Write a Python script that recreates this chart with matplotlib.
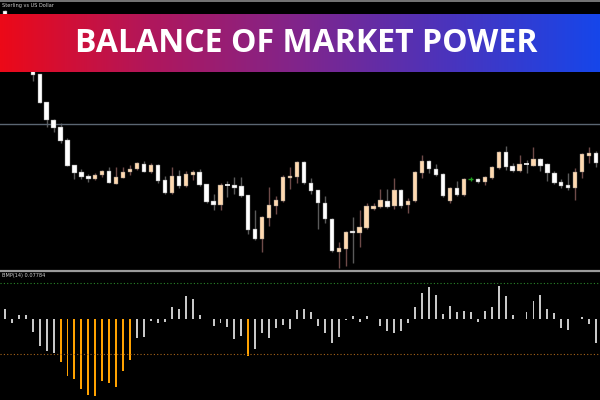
import numpy as np
import matplotlib
matplotlib.use("Agg")
import matplotlib.pyplot as plt
from matplotlib.colors import LinearSegmentedColormap

# GBPUSD candles (price), one per bar
opens = [1.2813, 1.2809, 1.2792, 1.2774, 1.2758, 1.2750, 1.2722, 1.2704, 1.2697, 1.2684,
         1.2659, 1.2652, 1.2648, 1.2645, 1.2649, 1.2653, 1.2640, 1.2646, 1.2652, 1.2655,
         1.2660, 1.2652, 1.2659, 1.2644, 1.2631, 1.2648, 1.2638, 1.2649, 1.2652, 1.2640,
         1.2623, 1.2619, 1.2639, 1.2639, 1.2638, 1.2629, 1.2595, 1.2585, 1.2606, 1.2618,
         1.2623, 1.2646, 1.2647, 1.2662, 1.2641, 1.2634, 1.2621, 1.2605, 1.2572, 1.2575,
         1.2593, 1.2591, 1.2596, 1.2615, 1.2617, 1.2623, 1.2618, 1.2634, 1.2619, 1.2623,
         1.2651, 1.2663, 1.2655, 1.2650, 1.2623, 1.2636, 1.2629, 1.2645, 1.2645, 1.2642,
         1.2646, 1.2656, 1.2672, 1.2658, 1.2653, 1.2660, 1.2658, 1.2665, 1.2660, 1.2651,
         1.2642, 1.2639, 1.2636, 1.2652, 1.2668, 1.2671, 1.2662]
closes = [1.2809, 1.2792, 1.2774, 1.2758, 1.2749, 1.2721, 1.2704, 1.2696, 1.2683, 1.2658,
          1.2651, 1.2647, 1.2645, 1.2649, 1.2653, 1.2641, 1.2647, 1.2652, 1.2655, 1.2661,
          1.2652, 1.2659, 1.2643, 1.2631, 1.2648, 1.2638, 1.2650, 1.2652, 1.2639, 1.2622,
          1.2619, 1.2639, 1.2638, 1.2636, 1.2628, 1.2594, 1.2585, 1.2607, 1.2619, 1.2624,
          1.2647, 1.2648, 1.2662, 1.2641, 1.2633, 1.2621, 1.2605, 1.2573, 1.2576, 1.2592,
          1.2591, 1.2597, 1.2618, 1.2618, 1.2624, 1.2617, 1.2634, 1.2618, 1.2623, 1.2652,
          1.2663, 1.2655, 1.2649, 1.2628, 1.2636, 1.2629, 1.2645, 1.2645, 1.2642, 1.2647,
          1.2657, 1.2672, 1.2657, 1.2653, 1.2660, 1.2660, 1.2665, 1.2658, 1.2651, 1.2641,
          1.2638, 1.2636, 1.2652, 1.2670, 1.2671, 1.2661, 1.2669]
highs = [1.2814, 1.2810, 1.2794, 1.2776, 1.2760, 1.2750, 1.2722, 1.2705, 1.2701, 1.2686,
         1.2659, 1.2655, 1.2650, 1.2651, 1.2654, 1.2657, 1.2657, 1.2657, 1.2659, 1.2662,
         1.2663, 1.2661, 1.2660, 1.2648, 1.2657, 1.2654, 1.2653, 1.2654, 1.2655, 1.2640,
         1.2630, 1.2641, 1.2643, 1.2647, 1.2647, 1.2629, 1.2614, 1.2608, 1.2637, 1.2628,
         1.2649, 1.2657, 1.2663, 1.2663, 1.2646, 1.2634, 1.2628, 1.2606, 1.2582, 1.2593,
         1.2607, 1.2614, 1.2621, 1.2621, 1.2635, 1.2635, 1.2646, 1.2635, 1.2626, 1.2653,
         1.2669, 1.2664, 1.2660, 1.2651, 1.2637, 1.2643, 1.2646, 1.2647, 1.2646, 1.2648,
         1.2658, 1.2673, 1.2678, 1.2661, 1.2669, 1.2664, 1.2677, 1.2666, 1.2661, 1.2653,
         1.2645, 1.2651, 1.2656, 1.2671, 1.2677, 1.2673, 1.2671]
lows = [1.2808, 1.2791, 1.2772, 1.2756, 1.2743, 1.2721, 1.2697, 1.2692, 1.2681, 1.2658,
        1.2645, 1.2645, 1.2642, 1.2644, 1.2647, 1.2641, 1.2640, 1.2646, 1.2649, 1.2654,
        1.2652, 1.2651, 1.2641, 1.2630, 1.2630, 1.2636, 1.2637, 1.2644, 1.2638, 1.2621,
        1.2614, 1.2614, 1.2627, 1.2630, 1.2627, 1.2590, 1.2584, 1.2572, 1.2598, 1.2610,
        1.2622, 1.2635, 1.2641, 1.2640, 1.2630, 1.2595, 1.2601, 1.2572, 1.2556, 1.2558,
        1.2561, 1.2577, 1.2595, 1.2614, 1.2616, 1.2616, 1.2615, 1.2616, 1.2611, 1.2622,
        1.2646, 1.2651, 1.2648, 1.2627, 1.2621, 1.2628, 1.2628, 1.2643, 1.2641, 1.2639,
        1.2645, 1.2655, 1.2654, 1.2652, 1.2652, 1.2651, 1.2658, 1.2653, 1.2643, 1.2640,
        1.2636, 1.2634, 1.2624, 1.2646, 1.2661, 1.2657, 1.2661]

# Balance of Market Power histogram
bmp = [0.041, -0.018, 0.014, 0.014, -0.055, -0.115, -0.138, -0.145, -0.186, -0.244,
       -0.257, -0.298, -0.327, -0.329, -0.265, -0.273, -0.291, -0.223, -0.176, -0.081,
       -0.078, -0.010, -0.017, -0.014, 0.048, 0.043, 0.098, 0.085, 0.014, -0.003,
       -0.029, -0.020, -0.034, -0.085, -0.074, -0.159, -0.131, -0.063, -0.081, -0.038,
       -0.027, -0.043, 0.035, 0.040, 0.029, -0.030, -0.060, -0.105, -0.077, -0.004,
       0.012, -0.016, 0.010, -0.003, -0.031, -0.051, -0.063, -0.054, -0.020, 0.050,
       0.111, 0.136, 0.101, 0.018, 0.054, 0.029, 0.033, 0.027, -0.012, 0.034,
       0.048, 0.139, 0.097, 0.014, -0.003, 0.030, 0.075, 0.102, 0.041, 0.026,
       -0.040, -0.046, -0.003, 0.009, -0.024, -0.102, -0.030]
level = 0.15
level_price = 1.2700
doji_green = [67]

symbol_label = "Sterling vs US Dollar"
ind_label = "BMP(14) 0.07784"
title = "BALANCE OF MARKET POWER"

W, H = 600, 400
fig = plt.figure(figsize=(6, 4), dpi=100, facecolor="black")

def px_axes(x0, y0, x1, y1):
    # pixel box (top-left origin) -> figure axes
    return fig.add_axes([x0 / W, 1 - y1 / H, (x1 - x0) / W, (y1 - y0) / H])

n = len(opens)
x = np.arange(n)
step = 6.955
xlo = -4.9 / step
xhi = (600 - 4.9) / step

# price pane
ax = px_axes(0, 2, 600, 270)
ax.set_facecolor("black")
ax.set_xlim(xlo, xhi)
ax.set_ylim(1.2554, 1.2822)
ax.axhline(level_price, color="#5b6672", lw=1)
bw = 0.62
for i in range(n):
    o, c, h, l = opens[i], closes[i], highs[i], lows[i]
    if i in doji_green:
        ax.vlines(i, l, h, color="#1fa01f", lw=1)
        ax.hlines(o, i - 0.35, i + 0.35, color="#1fa01f", lw=1)
        continue
    up = c > o
    body = "#ffd9b0" if up else "#ffffff"
    wick = "#6e4a48" if up else "#5a5a5a"
    ax.vlines(i, l, h, color=wick, lw=1, zorder=1)
    bot, top = min(o, c), max(o, c)
    if top - bot < 0.00012:
        ax.hlines(o, i - bw / 2, i + bw / 2, color=body, lw=1.2, zorder=2)
    else:
        ax.bar(i, top - bot, bottom=bot, width=bw, color=body,
               edgecolor="#7a7a7a", linewidth=0.3, zorder=2)
ax.axis("off")

# indicator pane
ax2 = px_axes(0, 273, 600, 400)
ax2.set_facecolor("black")
ax2.set_xlim(xlo, xhi)
ax2.set_ylim(-0.3463, 0.1947)
cols = ["#ffa200" if v < -level else "#c8c8c8" for v in bmp]
ax2.bar(x, bmp, width=0.28, color=cols, linewidth=0)
ax2.axhline(level, color="#2a8a2a", lw=0.8, ls=(0, (1, 2)))
ax2.axhline(-level, color="#a8641a", lw=0.8, ls=(0, (1, 2)))
ax2.axis("off")

# separators
fig.add_artist(plt.Line2D([0, 1], [1 - 271.2 / H] * 2, color="#9a9a9a", lw=1.6))
fig.add_artist(plt.Line2D([0, 1], [1 - 0.5 / H] * 2, color="#8a8a8a", lw=1.2))

fig.text(2 / W, 1 - 5.5 / H, symbol_label, color="#d0d0d0", fontsize=3.6, va="center")
fig.text(2 / W, 1 - 275.5 / H, ind_label, color="#d0d0d0", fontsize=3.6, va="center")

# gradient banner
bax = px_axes(0, 14, 600, 72)
cmap = LinearSegmentedColormap.from_list(
    "banner", ["#ec0918", "#b0175c", "#80258c", "#4a34bd", "#1646ea"])
bax.imshow(np.linspace(0, 1, 256)[None, :], aspect="auto", cmap=cmap,
           extent=[0, 1, 0, 1])
bax.set_xlim(0, 1)
bax.set_ylim(0, 1)
bax.axis("off")
bax.text(0.51, 0.5, title, color="white", fontsize=23, fontweight="bold",
         family="Open Sans", ha="center", va="center")

fig.savefig("out.png", dpi=100, facecolor="black")
